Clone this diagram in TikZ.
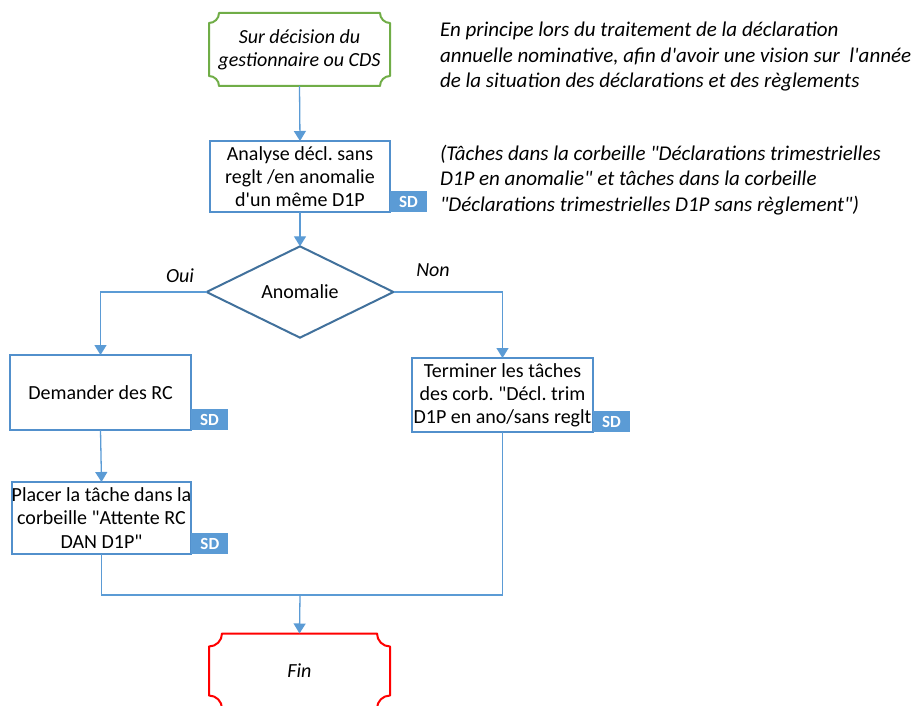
\documentclass[tikz,border=0pt]{standalone}
\usepackage{fontspec}
\setmainfont{Carlito}[Ligatures=TeXOff]
\usetikzlibrary{shapes.geometric,arrows.meta,calc}
\frenchspacing

\definecolor{link}{HTML}{5B9BD5}
\definecolor{boxline}{HTML}{5290CC}
\definecolor{decline}{HTML}{41719C}
\definecolor{startline}{HTML}{70AD47}
\definecolor{endline}{HTML}{FF0000}
\definecolor{badge}{HTML}{5B9BD5}

% Outline with concave (scalloped) corners around a named node
% #1 node, #2 colour, #3 corner radius
\newcommand\scallopbox[3]{%
  \draw[#2, line width=2pt, line join=round]
    ($(#1.north west)+(#3,0)$) -- ($(#1.north east)+(-#3,0)$)
    .. controls ($(#1.north east)+(-#3,0.55*#3)$) and ($(#1.north east)+(-0.55*#3,#3)$) .. ($(#1.north east)+(0,#3)$)
    -- ($(#1.south east)+(0,-#3)$)
    .. controls ($(#1.south east)+(-0.55*#3,-#3)$) and ($(#1.south east)+(-#3,-0.55*#3)$) .. ($(#1.south east)+(-#3,0)$)
    -- ($(#1.south west)+(#3,0)$)
    .. controls ($(#1.south west)+(#3,-0.55*#3)$) and ($(#1.south west)+(0.55*#3,-#3)$) .. ($(#1.south west)+(0,-#3)$)
    -- ($(#1.north west)+(0,#3)$)
    .. controls ($(#1.north west)+(0.55*#3,#3)$) and ($(#1.north west)+(#3,0.55*#3)$) .. cycle;}

\tikzset{
  every node/.style={font=\fontsize{20}{23.2}\selectfont, outer sep=0pt, inner sep=0pt},
  plain/.style={align=center},
  taskbox/.style={draw=boxline, line width=1.8pt, fill=white, align=center},
  decision/.style={diamond, draw=decline, line width=2pt, fill=white},
  sdbadge/.style={fill=badge, text=white, minimum width=37pt, minimum height=21pt,
    font=\fontsize{17}{20}\selectfont\bfseries, anchor=south west},
  flow/.style={draw=link, line width=1.3pt},
  arrow/.style={flow, -{Triangle[width=12pt,length=10pt]}},
  note/.style={align=left, anchor=north west, font=\fontsize{21}{25.5}\selectfont\itshape},
  branch/.style={font=\fontsize{20}{24}\selectfont\itshape}
}

\begin{document}
\begin{tikzpicture}[x=1pt,y=-1pt]
\useasboundingbox (0,0) rectangle (915,706);

% start and end terminals
\node[plain, minimum width=181pt, minimum height=73pt, font=\fontsize{20}{22.6}\selectfont\itshape]
  (s) at (299.5,49.5) {Sur décision du\\gestionnaire ou CDS};
\scallopbox{s}{startline}{10}

\node[plain, minimum width=181pt, minimum height=75pt, font=\fontsize{20}{22.6}\selectfont\itshape]
  (f) at (299.5,671) {Fin};
\scallopbox{f}{endline}{13}

% process boxes
\node[taskbox, minimum width=180pt, minimum height=71pt] (a) at (300,176.5)
  {Analyse décl. sans\\reglt /en anomalie\\d'un même D1P};
\node[sdbadge] (sda) at (a.south east) {SD};

\node[decision, minimum width=187pt, minimum height=73pt] (d) at (300,292) {Anomalie};

\node[taskbox, minimum width=181pt, minimum height=75pt] (b) at (100.5,392.5) {Demander des RC};
\node[sdbadge] (sdb) at (b.south east) {SD};

\node[taskbox, minimum width=178pt, minimum height=72pt] (p) at (101.5,518)
  {Placer la tâche dans la\\corbeille "Attente RC\\DAN D1P"};
\node[sdbadge] (sdp) at (p.south east) {SD};

\node[taskbox, minimum width=181pt, minimum height=74pt] (t) at (502.5,395)
  {Terminer les tâches\\des corb. "Décl. trim\\D1P en ano/sans reglt};
\node[sdbadge] (sdt) at (t.south east) {SD};

% branch labels
\node[branch] (oui) at (180,276) {Oui};
\node[branch] (non) at (433,270) {Non};

% side notes
\node[note] (n1) at (440,22)
  {En principe lors du traitement de la déclaration\\
   annuelle nominative, afin d'avoir une vision sur \ l'année\\
   de la situation des déclarations et des règlements};
\node[note] (n2) at (440,145)
  {(Tâches dans la corbeille "Déclarations trimestrielles\\
   D1P en anomalie" et tâches dans la corbeille\\
   "Déclarations trimestrielles D1P sans règlement")};

% connectors
\coordinate (m) at (300,595);
\draw[arrow] (s.south) -- (a.north);
\draw[arrow] (a.south) -- (d.north);
\draw[arrow] (d.west) -| (b.north);
\draw[arrow] (d.east) -| (t.north);
\draw[arrow] (b.south) -- (p.north);
\draw[flow] (p.south) |- (m);
\draw[flow] (t.south) |- (m);
\draw[arrow] (m) -- (f.north);
\end{tikzpicture}
\end{document}
